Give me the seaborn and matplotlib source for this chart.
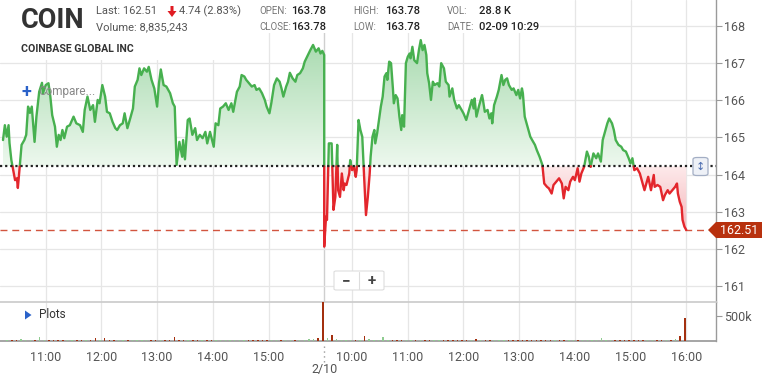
import numpy as np
import pandas as pd
import matplotlib
matplotlib.use("Agg")
import matplotlib.pyplot as plt
import seaborn as sns
from matplotlib.path import Path
from matplotlib.patches import Rectangle, FancyBboxPatch, Polygon
from matplotlib.colors import LinearSegmentedColormap
from matplotlib.lines import Line2D

# ---------------- data ----------------
ticker = "COIN"
company = "COINBASE GLOBAL INC"
last_price = 162.51
ref_price = 164.22

d1_times = ["10:14","10:16","10:18","10:20","10:21","10:23","10:25","10:27","10:29","10:30","10:32","10:34","10:37","10:39","10:41","10:43","10:45","10:48","10:50","10:53","10:56","10:57",
            "11:00","11:03","11:05","11:07","11:10","11:12","11:14","11:16","11:18","11:20","11:23","11:26","11:30","11:33","11:37","11:40","11:42","11:45","11:48","11:51","11:53","11:56","11:58",
            "12:01","12:04","12:06","12:09","12:12","12:15","12:17","12:20","12:23","12:25","12:28","12:31","12:34","12:36","12:39","12:41","12:43","12:46","12:49","12:51","12:54","12:57",
            "13:00","13:02","13:04","13:07","13:10","13:14","13:17","13:19","13:21","13:24","13:27","13:28","13:30","13:33","13:35","13:38","13:41","13:43","13:46","13:49","13:52","13:54","13:57",
            "14:01","14:03","14:06","14:08","14:11","14:14","14:17","14:20","14:22","14:26","14:29","14:31","14:34","14:36","14:39","14:42","14:45","14:47","14:50","14:53","14:56","14:58",
            "15:01","15:03","15:06","15:09","15:12","15:14","15:16","15:19","15:21","15:23","15:26","15:29","15:31","15:34","15:37","15:39","15:45","15:48","15:51","15:54","15:56","15:58","16:00"]
d1_prices = [164.93,165.33,165.02,165.33,164.85,164.39,164.12,163.85,163.90,163.64,164.21,164.80,164.93,165.07,165.83,165.66,165.83,164.88,165.56,166.23,166.47,166.19,
             166.41,166.46,166.10,165.60,165.29,164.75,165.07,164.93,165.20,164.98,165.29,165.33,165.56,165.38,165.33,165.15,165.74,166.10,165.74,165.87,165.42,166.01,165.92,
             166.41,166.10,165.69,165.65,165.42,165.25,165.20,165.33,165.38,165.65,165.25,165.51,165.78,166.37,166.55,166.86,166.68,166.86,166.77,166.90,166.55,166.32,
             165.83,166.46,166.83,166.41,166.37,166.19,165.92,165.83,164.26,164.88,164.48,164.93,164.41,165.47,165.51,165.07,165.25,164.93,165.07,164.98,165.15,164.84,165.15,
             164.75,165.38,165.33,165.78,165.83,165.92,165.74,165.92,165.69,166.23,166.37,166.68,166.64,166.55,166.46,166.37,166.41,166.28,166.32,166.19,166.01,165.83,
             165.65,165.92,166.41,166.59,166.50,166.32,166.10,166.37,166.50,166.74,166.59,166.50,166.68,166.73,166.86,167.04,167.35,167.49,167.31,167.40,167.26,167.33,167.22]

d2_times = ["9:30","9:32","9:33","9:35","9:38","9:40","9:42","9:44","9:45","9:47","9:49","9:51","9:52","9:54","9:57","9:58",
            "10:00","10:02","10:04","10:05","10:07","10:09","10:11","10:13","10:15","10:17","10:19","10:20","10:22","10:24","10:25","10:27","10:29","10:31","10:33","10:35","10:37","10:38","10:40","10:42","10:44","10:45","10:47","10:49","10:51","10:53","10:54","10:56","10:58",
            "11:00","11:02","11:03","11:05","11:07","11:10","11:12","11:14","11:16","11:18","11:20","11:21","11:23","11:25","11:27","11:29","11:32","11:34","11:36","11:39","11:41","11:44","11:45","11:48","11:50","11:53","11:55","11:58",
            "12:00","12:03","12:06","12:09","12:11","12:12","12:14","12:17","12:20","12:21","12:23","12:26","12:28","12:30","12:31","12:33","12:36","12:38","12:41","12:43","12:45","12:47","12:49","12:52","12:54","12:57","12:59",
            "13:01","13:03","13:04","13:06","13:09","13:12","13:14","13:17","13:19","13:22","13:25","13:27","13:30","13:32","13:35","13:37","13:40","13:43","13:46","13:48","13:50","13:53","13:55","13:58",
            "14:00","14:03","14:05","14:07","14:10","14:13","14:15","14:17","14:20","14:23","14:25","14:28","14:30","14:33","14:35","14:37","14:40","14:42","14:44","14:47","14:50","14:52","14:55","14:58",
            "15:00","15:02","15:04","15:07","15:10","15:12","15:15","15:17","15:19","15:22","15:25","15:26","15:29","15:32","15:35","15:37","15:40","15:42","15:45","15:48","15:50","15:51","15:53","15:55","15:56","15:58","16:00"]
d2_prices = [162.06,162.87,162.78,164.84,164.84,163.05,163.40,164.80,163.58,163.40,164.03,163.58,163.76,163.72,164.03,164.39,
             164.12,164.21,163.94,164.12,165.47,165.20,165.02,163.94,162.91,163.40,164.03,164.48,165.02,165.20,164.84,165.11,165.47,165.83,166.10,166.64,166.73,166.55,167.04,167.00,166.32,165.92,166.14,166.05,165.56,165.20,165.60,165.29,167.00,
             167.17,167.26,167.13,167.44,167.08,167.00,167.35,167.62,167.35,167.49,167.22,166.73,166.46,166.01,166.50,166.41,166.46,166.37,167.00,166.86,166.50,166.41,166.10,166.32,166.01,165.78,165.87,165.74,
             165.65,165.47,165.74,166.01,165.78,166.05,165.56,165.87,166.14,166.01,165.69,165.74,165.51,165.65,165.38,165.87,166.10,166.28,166.68,166.41,166.55,166.59,166.41,166.28,166.32,166.14,166.28,
             166.05,166.32,166.19,165.56,165.29,165.02,164.93,164.80,164.66,164.48,164.26,163.76,163.67,163.63,163.49,163.72,163.81,163.90,163.76,163.36,163.67,163.58,163.81,163.94,
             163.85,164.17,163.81,164.03,164.21,164.62,164.48,164.21,164.57,164.44,164.57,164.35,164.93,165.20,165.38,165.51,165.38,165.20,164.93,164.80,164.75,164.66,164.62,164.44,
             164.30,164.44,164.12,164.17,164.03,163.85,163.58,163.76,163.94,163.58,163.99,163.67,163.72,163.67,163.31,163.45,163.58,163.49,163.58,163.67,163.76,163.49,163.27,163.13,162.78,162.60,162.51]

# volume, 5-minute buckets (thousands of shares)
d1_vol_start = "10:15"
d1_vols = [20,15,25,40,20,15,25,80,20,
           15,20,25,15,20,10,15,20,15,20,50,15,
           60,20,15,10,15,20,10,15,10,15,10,10,
           15,10,15,75,20,15,10,15,10,15,10,10,
           10,15,10,10,15,10,10,15,10,10,15,15,
           10,15,10,15,10,15,20,25,30,40,55,790]
d2_vol_start = "9:30"
d2_vols = [60,120,30,25,20,15,
           20,15,95,30,20,15,85,20,15,20,15,20,
           15,20,15,10,15,10,15,10,15,10,10,15,
           10,10,40,10,10,15,10,10,10,15,10,10,
           10,15,10,10,15,10,10,15,10,10,10,10,
           15,10,10,10,15,55,10,10,15,10,10,15,
           10,15,10,15,10,15,20,15,25,35,90,460]

day1_ticks = ["11:00","12:00","13:00","14:00","15:00"]
day2_ticks = ["10:00","11:00","12:00","13:00","14:00","15:00","16:00"]
price_ticks = [161,162,163,164,165,166,167,168]

# ---------------- helpers ----------------
def tod(t):
    h, m = t.split(":")
    return int(h) + int(m) / 60.0

def pos(t, day):
    v = tod(t)
    return v if day == 1 else 16.0 + (v - 9.5)

W, H = 766, 376
def fx(px): return px / W
def fy(py): return 1 - py / H

GREEN = "#47b04f"
RED = "#e3262c"

sns.set_theme(style="white")
plt.rcParams["font.family"] = ["Roboto", "DejaVu Sans"]

fig = plt.figure(figsize=(W / 100, H / 100), dpi=100)
ax = fig.add_axes([0, fy(302), fx(716), 302 / H])
axv = fig.add_axes([0, fy(341), fx(716), 39 / H])

XMIN, XMAX = 10.1795, 23.034
YMIN, YMAX = 160.57, 168.70

# ---------------- price line ----------------
xs = np.array([pos(t, 1) for t in d1_times] + [pos(t, 2) for t in d2_times])
ps = np.array(d1_prices + d2_prices)
dx, dp = [xs[0]], [ps[0]]
for i in range(1, len(xs)):
    x0, p0, x1, p1 = xs[i - 1], ps[i - 1], xs[i], ps[i]
    if (p0 - ref_price) * (p1 - ref_price) < 0:
        xc = x0 + (ref_price - p0) / (p1 - p0) * (x1 - x0)
        dx.append(xc); dp.append(ref_price)
    dx.append(x1); dp.append(p1)
dx, dp = np.array(dx), np.array(dp)

sides = ["up" if (dp[i] + dp[i + 1]) / 2 >= ref_price else "down" for i in range(len(dp) - 1)]
rows = []
seg, start = 0, 0
for i in range(1, len(sides) + 1):
    if i == len(sides) or sides[i] != sides[start]:
        for j in range(start, i + 1):
            rows.append(dict(h=dx[j], price=dp[j], side=sides[start], seg=seg))
        seg += 1
        start = i
df = pd.DataFrame(rows)

# gradient fills
fu = ax.fill_between(dx, dp, ref_price, where=dp >= ref_price, interpolate=True,
                     facecolor="none", edgecolor="none", lw=0)
fd = ax.fill_between(dx, dp, ref_price, where=dp <= ref_price, interpolate=True,
                     facecolor="none", edgecolor="none", lw=0)

def grad_fill(coll, c_near, c_far, y_near, y_far):
    paths = coll.get_paths()
    if not paths:
        return
    cp = Path.make_compound_path(*paths)
    cmap = LinearSegmentedColormap.from_list("g", [c_near, c_far])
    arr = np.linspace(0, 1, 256).reshape(-1, 1)
    im = ax.imshow(arr, cmap=cmap, aspect="auto", origin="lower",
                   extent=[XMIN, XMAX, y_near, y_far], zorder=1, interpolation="bilinear")
    im.set_clip_path(cp, ax.transData)

grad_fill(fu, "#edf8ee", "#a5d9ac", ref_price, 167.8)
grad_fill(fd, "#fdeaeb", "#f3a6ab", ref_price, 162.0)

sns.lineplot(data=df, x="h", y="price", hue="side", units="seg", estimator=None,
             sort=False, palette={"up": GREEN, "down": RED}, legend=False,
             lw=1.7, ax=ax, zorder=4)

# reference lines
ax.axhline(ref_price, color="#222222", ls=(0, (1, 1.3)), lw=1.6, zorder=5)
ax.axhline(last_price, xmin=0, xmax=708 / 716, color="#d2553f", ls=(0, (5, 3.5)), lw=1.0, zorder=3)
ax.axvline(16.0, color="#cfcfcf", lw=1.0, zorder=0.5)

# axes styling
hour_pos = [pos(t, 1) for t in day1_ticks] + [pos(t, 2) for t in day2_ticks]
hour_lab = day1_ticks + day2_ticks

for a in (ax, axv):
    a.set_xlim(XMIN, XMAX)
    a.set_xticks(hour_pos)
    a.grid(axis="x", color="#e6e6e6", lw=0.9)
    a.set_xlabel(""); a.set_ylabel("")
    a.set_facecolor("white")
    for s in ("left", "top", "bottom", "right"):
        a.spines[s].set_visible(False)
    a.spines["right"].set_visible(True)
    a.spines["right"].set_color("#9a9a9a")
    a.spines["right"].set_linewidth(1.0)
    a.yaxis.tick_right()

ax.set_ylim(YMIN, YMAX)
ax.set_yticks(price_ticks)
ax.set_yticklabels([str(v) for v in price_ticks])
ax.grid(axis="y", color="#e6e6e6", lw=0.9)
ax.tick_params(axis="x", length=0, labelbottom=False)
ax.tick_params(axis="y", right=True, length=4, width=0.8, color="#9a9a9a",
               labelsize=9, labelcolor="#555555", pad=2)

# volume
vx, vv, vc = [], [], []
b0 = pos(d1_vol_start, 1)
for k, v in enumerate(d1_vols):
    c0 = b0 + k * 5 / 60
    vx.append(c0 + 3.5 / 60); vv.append(v * 1000)
    pa = np.interp(c0, xs[:len(d1_times)], d1_prices)
    pb = np.interp(min(c0 + 5 / 60, 16.0), xs[:len(d1_times)], d1_prices)
    vc.append("#8fcc90" if pb > pa else "#a3300f")
b0 = pos(d2_vol_start, 2)
x2 = xs[len(d1_times):]
for k, v in enumerate(d2_vols):
    c0 = b0 + k * 5 / 60
    vx.append(c0 + 3.5 / 60); vv.append(v * 1000)
    pa = np.interp(c0, x2, d2_prices)
    pb = np.interp(c0 + 5 / 60, x2, d2_prices)
    vc.append("#8fcc90" if pb > pa else "#a3300f")
axv.bar(vx, vv, width=1.6 / 60, color=vc, lw=0, zorder=3)
axv.set_ylim(0, 771000)
axv.set_yticks([500000])
axv.set_yticklabels(["500k"])
axv.set_xticklabels(hour_lab)
axv.spines["bottom"].set_visible(True)
axv.spines["bottom"].set_color("#9a9a9a")
axv.spines["top"].set_visible(True)
axv.spines["top"].set_color("#cccccc")
axv.tick_params(axis="x", length=0, labelsize=9, labelcolor="#555555", pad=7)
axv.tick_params(axis="y", right=True, length=4, width=0.8, color="#9a9a9a",
                labelsize=9, labelcolor="#555555", pad=2)

# ---------------- overlays ----------------
def prect(x0, y0, x1, y1, **kw):
    r = Rectangle((fx(x0), fy(y1)), fx(x1) - fx(x0), fy(y0) - fy(y1),
                  transform=fig.transFigure, **kw)
    fig.patches.append(r)
    return r

prect(0, 0, 245, 60, facecolor="white", edgecolor="none", zorder=2)
prect(245, 0, 540, 33, facecolor="white", edgecolor="none", zorder=2)

def ftext(x, y, s, **kw):
    kw.setdefault("va", "center")
    kw.setdefault("ha", "left")
    return fig.text(fx(x), fy(y), s, **kw)

ftext(21, 20, ticker, fontsize=19.5, fontweight="bold", color="#333333")
ftext(96, 11, "Last: 162.51", fontsize=8, color="#555555")
ftext(96, 27, "Volume: 8,835,243", fontsize=8, color="#555555")
fig.patches.append(Polygon([(fx(170.5), fy(6)), (fx(173.5), fy(6)), (fx(173.5), fy(11)),
                            (fx(176.5), fy(11)), (fx(172), fy(17)), (fx(167.5), fy(11)),
                            (fx(170.5), fy(11))], closed=True, transform=fig.transFigure,
                           facecolor="#e01b22", edgecolor="none", zorder=3))
ftext(179, 11, "4.74 (2.83%)", fontsize=8, color="#555555")
ftext(21, 49, company, fontsize=7.6, fontweight="bold", color="#333333")

for (lx, vx_, lab, val, yy) in [(259, 291, "OPEN:", "163.78", 11), (259, 291, "CLOSE:", "163.78", 27),
                                (353, 385, "HIGH:", "163.78", 11), (353, 385, "LOW:", "163.78", 27),
                                (447, 479, "VOL:", "28.8 K", 11), (447, 479, "DATE:", "02-09 10:29", 27)]:
    ftext(lx, yy, lab, fontsize=7, color="#777777")
    ftext(vx_, yy, val, fontsize=8, color="#222222", fontweight="medium")

ftext(21.5, 92, "+", fontsize=13, fontweight="bold", color="#2a62c9")
ftext(38, 92, "Compare...", fontsize=8.5, color="#888888")

fig.patches.append(Polygon([(fx(25), fy(310.5)), (fx(25), fy(319.5)), (fx(31.5), fy(315))],
                           closed=True, transform=fig.transFigure, facecolor="#2a62c9",
                           edgecolor="none", zorder=3))
ftext(39, 315, "Plots", fontsize=8.5, color="#333333")

# zoom buttons
fig.patches.append(FancyBboxPatch((fx(334), fy(290)), fx(50), 19 / H,
                                  boxstyle="round,pad=0,rounding_size=0.003",
                                  transform=fig.transFigure, facecolor="white",
                                  edgecolor="#dddddd", lw=0.8, zorder=3))
fig.lines.append(Line2D([fx(359), fx(359)], [fy(272), fy(289)], transform=fig.transFigure,
                        color="#dddddd", lw=0.8, zorder=4))
ftext(346.5, 281, "\u2212", ha="center", fontsize=11, fontweight="bold", color="#444444")
ftext(371.5, 281, "+", ha="center", fontsize=11, fontweight="bold", color="#444444")

# scale button
fig.patches.append(FancyBboxPatch((fx(693), fy(175.5)), fx(15), 18 / H,
                                  boxstyle="round,pad=0,rounding_size=0.005",
                                  transform=fig.transFigure, facecolor="#eef1f7",
                                  edgecolor="#a3aec4", lw=0.9, zorder=6))
ftext(700.5, 166.5, "\u2195", ha="center", fontsize=8, color="#4a6cb0",
      family=["DejaVu Sans"], zorder=7)

# last price tag
fig.patches.append(Polygon([(fx(708), fy(230)), (fx(716), fy(222)), (fx(762), fy(222)),
                            (fx(762), fy(238)), (fx(716), fy(238))], closed=True,
                           transform=fig.transFigure, facecolor="#b8310e",
                           edgecolor="none", zorder=6))
ftext(739, 230, "162.51", ha="center", fontsize=9, color="white", zorder=7)

# day separator marker under axis
fig.lines.append(Line2D([fx(324.3), fx(324.3)], [fy(346), fy(364)], transform=fig.transFigure,
                        color="#999999", lw=1.0, ls=(0, (1, 2.5)), zorder=3))
ftext(324.3, 370, "2/10", ha="center", fontsize=9, color="#555555")

fig.savefig("out.png", dpi=100)
